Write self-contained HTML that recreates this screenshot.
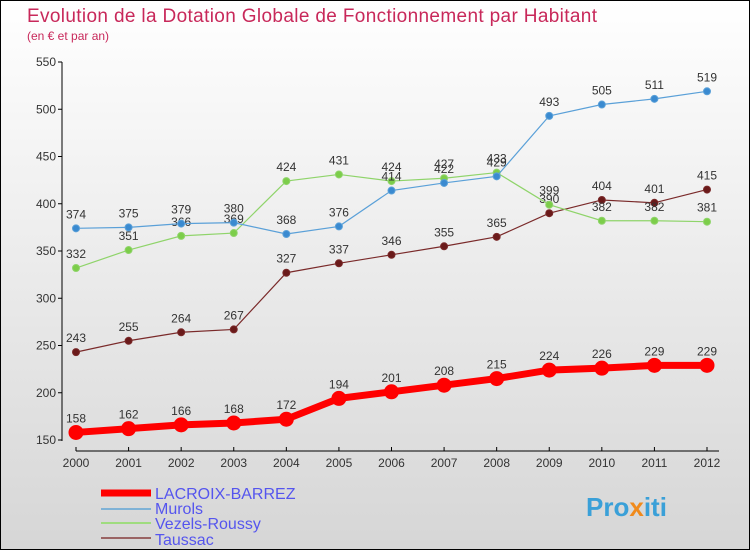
<!DOCTYPE html>
<html><head><meta charset="utf-8"><style>
body{margin:0}
#c{width:748px;height:548px;border:1px solid #000;background:linear-gradient(#fff,#d6d6d6);position:relative;overflow:hidden;font-family:"Liberation Sans",sans-serif}
</style></head><body>
<div id="c">
<svg id="s" width="748" height="548">
<text x="26" y="21" font-size="19" fill="#c8285a" textLength="570">Evolution de la Dotation Globale de Fonctionnement par Habitant</text>
<text x="26" y="39" font-size="12" fill="#c8285a">(en € et par an)</text>
<g id="plot"></g>
<g>
<line x1="100" y1="492" x2="150" y2="492" stroke="#f00" stroke-width="7"/>
<text x="154" y="498" font-size="16" fill="#5555ee">LACROIX-BARREZ</text>
<line x1="100" y1="508" x2="150" y2="508" stroke="#7fb2d6" stroke-width="2"/>
<text x="154" y="513" font-size="16" fill="#5555ee">Murols</text>
<line x1="100" y1="522" x2="150" y2="522" stroke="#9fdc7f" stroke-width="2"/>
<text x="154" y="528" font-size="16" fill="#5555ee">Vezels-Roussy</text>
<line x1="100" y1="537" x2="150" y2="537" stroke="#9a6464" stroke-width="2"/>
<text x="154" y="544" font-size="16" fill="#5555ee">Taussac</text>
</g>
<text x="585" y="515" font-size="26" font-weight="bold" fill="#3aa0d8">Pro<tspan fill="#f08a1c">x</tspan>iti</text>
</svg></div>
<script>
const years=[2000,2001,2002,2003,2004,2005,2006,2007,2008,2009,2010,2011,2012];
const yTicks=[150,200,250,300,350,400,450,500,550];
const lacroix=[158,162,166,168,172,194,201,208,215,224,226,229,229];
const murols=[374,375,379,380,368,376,414,422,429,493,505,511,519];
const vezels=[332,351,366,369,424,431,424,427,433,399,382,382,381];
const taussac=[243,255,264,267,327,337,346,355,365,390,404,401,415];
const NS="http://www.w3.org/2000/svg";
const g=document.getElementById('plot');
function X(i){return 75+i*(706-75)/(years.length-1);}
function Y(v){return 439-(v-150)*378/400;}
function mk(t,a){const e=document.createElementNS(NS,t);for(const k in a)e.setAttribute(k,a[k]);g.appendChild(e);return e;}
let e=mk('line',{x1:61,y1:61,x2:61,y2:440,stroke:'#000'});


e=mk('line',{x1:75,y1:450,x2:718,y2:450,stroke:'#000'});


yTicks.forEach(v=>{
 mk('line',{x1:57,y1:Y(v),x2:61,y2:Y(v),stroke:'#000'});
 const t=mk('text',{x:55,y:Y(v)+4,'font-size':12,fill:'#333','text-anchor':'end'});t.textContent=v;
 
 
});
years.forEach((y,i)=>{
 mk('line',{x1:X(i),y1:446,x2:X(i),y2:450,stroke:'#000'});
 const t=mk('text',{x:X(i),y:466,'font-size':12,fill:'#333','text-anchor':'middle'});t.textContent=y;
 
 
});
function series(d,col,dot,w,r,name){
 const p=mk('polyline',{points:d.map((v,i)=>X(i)+','+Y(v)).join(' '),fill:'none',stroke:col,'stroke-width':w});
 
 
 d.forEach((v,i)=>{
  const c=mk('circle',{cx:X(i),cy:Y(v),r:r,fill:dot,stroke:col,'stroke-width':1});
  
  
  const t=mk('text',{x:X(i),y:Y(v)-10,'font-size':12,fill:'#333','text-anchor':'middle'});t.textContent=v;
  
  
 });
}
series(taussac,'#7a2a2a','#6a1a1a',1.2,3.5,'taussac');
series(vezels,'#8fd46a','#7ccd4a',1.2,3.5,'vezels');
series(murols,'#5aa0d8','#3a8ad0',1.2,3.5,'murols');
series(lacroix,'#f00','#f00',7,7,'lacroix');
</script>
</body></html>
